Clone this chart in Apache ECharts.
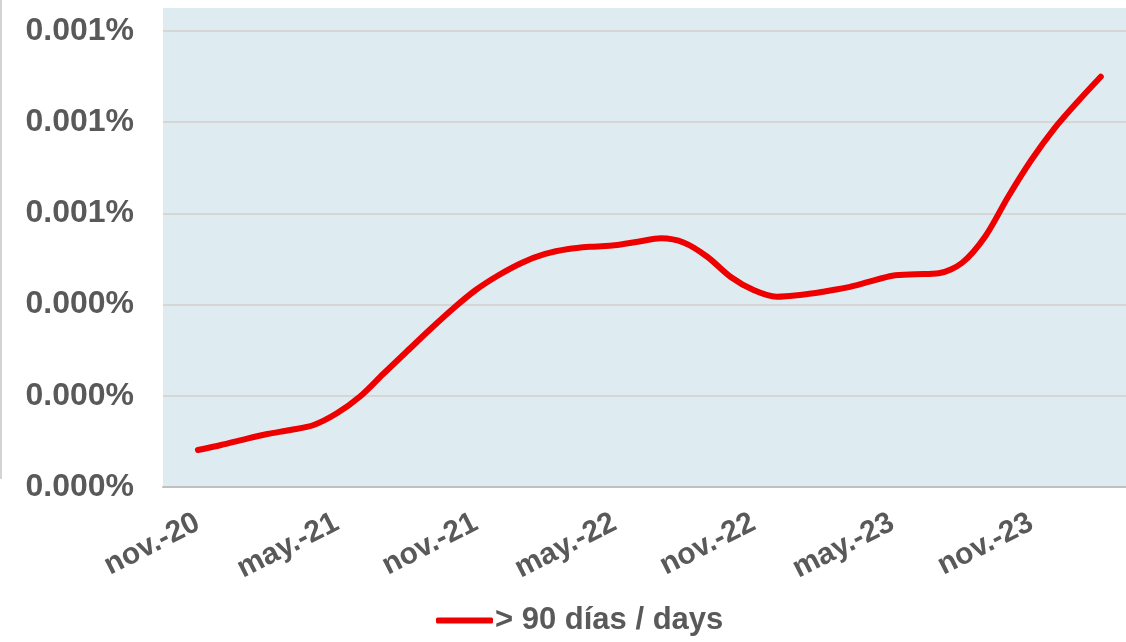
<!DOCTYPE html>
<html>
<head>
<meta charset="utf-8">
<script src="https://cdn.jsdelivr.net/npm/echarts@6/dist/echarts.min.js"></script>
<style>
  html, body { margin: 0; padding: 0; background: #fff; }
  #chart { width: 1126px; height: 642px; }
</style>
</head>
<body>
<div id="chart"></div>
<script>
  // monthly categories, nov.-20 .. feb.-24
  const months = [
    'nov.-20', 'dic.-20', 'ene.-21', 'feb.-21', 'mar.-21', 'abr.-21',
    'may.-21', 'jun.-21', 'jul.-21', 'ago.-21', 'sep.-21', 'oct.-21',
    'nov.-21', 'dic.-21', 'ene.-22', 'feb.-22', 'mar.-22', 'abr.-22',
    'may.-22', 'jun.-22', 'jul.-22', 'ago.-22', 'sep.-22', 'oct.-22',
    'nov.-22', 'dic.-22', 'ene.-23', 'feb.-23', 'mar.-23', 'abr.-23',
    'may.-23', 'jun.-23', 'jul.-23', 'ago.-23', 'sep.-23', 'oct.-23',
    'nov.-23', 'dic.-23', 'ene.-24', 'feb.-24',
  ];

  // > 90 días / days, in percent
  const over90 = [
    0.0000811, 0.0000921, 0.0001046, 0.0001162, 0.0001250, 0.0001360,
    0.0001616, 0.0001985, 0.0002478, 0.0002961, 0.0003443, 0.0003904,
    0.0004320, 0.0004649, 0.0004919, 0.0005110, 0.0005219, 0.0005270,
    0.0005300, 0.0005379, 0.0005454, 0.0005357, 0.0005050, 0.0004612,
    0.0004320, 0.0004173, 0.0004211, 0.0004283, 0.0004371, 0.0004502,
    0.0004634, 0.0004664, 0.0004686, 0.0004912, 0.0005489, 0.0006366,
    0.0007171, 0.0007866, 0.0008450, 0.0008998,
  ];

  const labelMonths = [0, 6, 12, 18, 24, 30, 36];

  const textColor = '#595959';
  const bg = '#deecf2';

  const chart = echarts.init(document.getElementById('chart'));

  chart.setOption({
    animation: false,
    graphic: [
      // plot background continues a bit above the top gridline
      { type: 'rect', shape: { x: 163, y: 8, width: 963, height: 24 }, style: { fill: bg }, silent: true, z: -1 },
      { type: 'line', shape: { x1: 1, y1: 0, x2: 1, y2: 479 }, style: { stroke: '#d4d4d4', lineWidth: 2 }, silent: true },
    ],
    grid: {
      left: 163,
      right: 0,
      top: 31,
      bottom: 155,
      show: true,
      backgroundColor: bg,
      borderWidth: 0,
    },
    legend: {
      left: 431,
      top: 600,
      itemWidth: 57,
      itemHeight: 6,
      itemGap: 10,
      icon: 'roundRect',
      textStyle: {
        color: textColor,
        fontSize: 31,
        fontWeight: 'bold',
        fontFamily: 'Liberation Sans, Arial, sans-serif',
        padding: [0, 0, 0, -3],
      },
    },
    xAxis: {
      type: 'value',
      min: -1.51,
      max: 40.09,
      splitLine: { show: false },
      axisTick: { show: false },
      axisLine: { show: true, lineStyle: { color: '#bfbfbf', width: 2 } },
      axisLabel: {
        customValues: labelMonths,
        formatter: (v) => months[v],
        rotate: 27,
        margin: 34,
        color: textColor,
        fontSize: 30,
        fontWeight: 'bold',
        fontFamily: 'Liberation Sans, Arial, sans-serif',
      },
    },
    yAxis: {
      type: 'value',
      min: 0,
      max: 0.001,
      interval: 0.0002,
      axisLine: { show: false },
      axisTick: { show: false },
      splitLine: { lineStyle: { color: '#d6d6d6', width: 2 } },
      axisLabel: {
        formatter: (v) => v.toFixed(3) + '%',
        margin: 29,
        color: textColor,
        fontSize: 32,
        fontWeight: 'bold',
        fontFamily: 'Liberation Sans, Arial, sans-serif',
      },
    },
    series: [
      {
        name: '> 90 días / days',
        type: 'line',
        data: over90.map((v, i) => [i, v]),
        smooth: 0.3,
        showSymbol: false,
        symbol: 'none',
        lineStyle: { color: '#ee0000', width: 6, cap: 'round' },
        itemStyle: { color: '#ee0000' },
      },
    ],
  });
</script>
</body>
</html>
